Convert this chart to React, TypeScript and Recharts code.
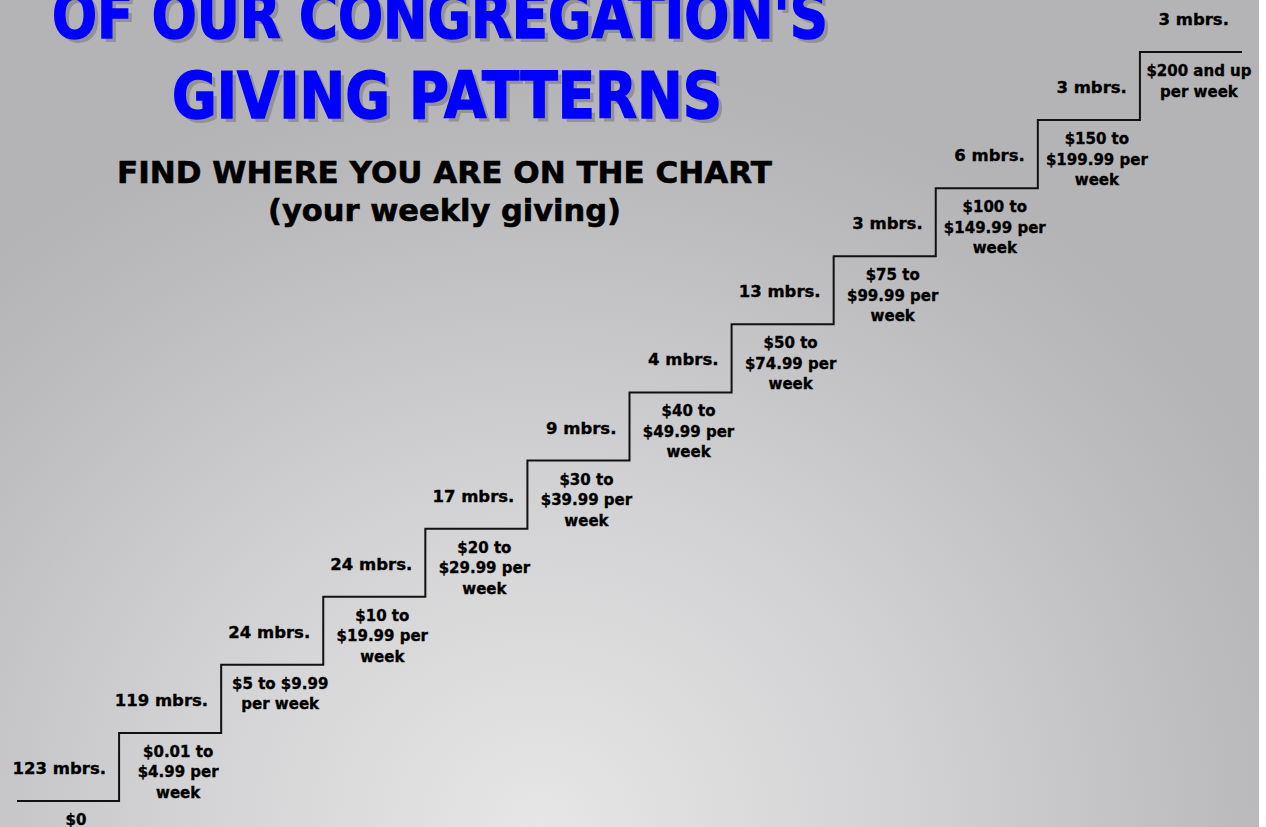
import { ComposedChart, Line, Scatter, XAxis, YAxis } from "recharts";

const memberCounts = [123, 119, 24, 24, 17, 9, 4, 13, 3, 6, 3, 3];
const givingRanges = [
  ["$0"],
  ["$0.01 to", "$4.99 per", "week"],
  ["$5 to $9.99", "per week"],
  ["$10 to", "$19.99 per", "week"],
  ["$20 to", "$29.99 per", "week"],
  ["$30 to", "$39.99 per", "week"],
  ["$40 to", "$49.99 per", "week"],
  ["$50 to", "$74.99 per", "week"],
  ["$75 to", "$99.99 per", "week"],
  ["$100 to", "$149.99 per", "week"],
  ["$150 to", "$199.99 per", "week"],
  ["$200 and up", "per week"],
];

// stair line: each step starts at x = index, height = index
const stairs = memberCounts.map((_, i) => ({ x: i, level: i }));
stairs.push({ x: memberCounts.length, level: memberCounts.length - 1 });

const stepLabels = memberCounts.map((count, i) => ({
  x: i + 0.5,
  level: i,
  count,
  range: givingRanges[i],
}));

const FONT = "'DejaVu Sans', Verdana, sans-serif";

function StepLabel(props: any) {
  const { cx, cy, payload } = props;
  return (
    <g fontFamily={FONT} fontWeight="bold" fontSize={15} fill="#000" stroke="#000" strokeWidth={0.35}>
      <text x={cx + 38} y={cy - 27} textAnchor="end" fontSize={16.5}>
        {payload.count} mbrs.
      </text>
      {payload.range.map((line: string, j: number) => (
        <text key={j} x={cx + 8} y={cy + 24 + j * 20.5} textAnchor="middle">
          {line}
        </text>
      ))}
    </g>
  );
}

export default function App() {
  return (
    <div
      style={{
        position: "absolute",
        left: 0,
        top: 0,
        width: 1266,
        height: 827,
        background: "#fff",
        overflow: "hidden",
      }}
    >
      <div
        style={{
          position: "absolute",
          left: 0,
          top: 0,
          width: 1259,
          height: 827,
          background: "radial-gradient(ellipse 820px 760px at 540px 827px, #e6e6e6 0%, #d2d2d4 45%, #bbbbbe 85%, #b4b4b7 100%)",
        }}
      />
      <svg width={1266} height={240} style={{ position: "absolute", left: 0, top: 0 }}>
        <g fontFamily={FONT} fontWeight="bold" fontSize={64}>
          <text x={56} y={42} textLength={776} lengthAdjust="spacingAndGlyphs" fill="#8a8a8e" opacity={0.8}>
            OF OUR CONGREGATION'S
          </text>
          <text x={52} y={38} textLength={776} lengthAdjust="spacingAndGlyphs" fill="#0000ff" stroke="#0000ff" strokeWidth={1.5}>
            OF OUR CONGREGATION'S
          </text>
          <text x={176} y={122} textLength={550} lengthAdjust="spacingAndGlyphs" fill="#8a8a8e" opacity={0.8}>
            GIVING PATTERNS
          </text>
          <text x={172} y={118} textLength={550} lengthAdjust="spacingAndGlyphs" fill="#0000ff" stroke="#0000ff" strokeWidth={1.5}>
            GIVING PATTERNS
          </text>
        </g>
        <g fontFamily={FONT} fontWeight="bold" fontSize={31} fill="#000" stroke="#000" strokeWidth={0.6}>
          <text x={117} y={183} textLength={655} lengthAdjust="spacingAndGlyphs">
            FIND WHERE YOU ARE ON THE CHART
          </text>
          <text x={268} y={221} textLength={353} lengthAdjust="spacingAndGlyphs">
            (your weekly giving)
          </text>
        </g>
      </svg>
      <div style={{ position: "absolute", left: 0, top: 0 }}>
        <ComposedChart
          width={1266}
          height={827}
          data={stairs}
          margin={{ top: 52, right: 24, bottom: 26, left: 17 }}
        >
          <XAxis dataKey="x" type="number" domain={[0, 12]} hide />
          <YAxis dataKey="level" type="number" domain={[0, 11]} hide />
          <Line
            type="stepAfter"
            dataKey="level"
            stroke="#111"
            strokeWidth={2}
            dot={false}
            isAnimationActive={false}
          />
          <Scatter data={stepLabels} dataKey="level" shape={StepLabel} isAnimationActive={false} />
        </ComposedChart>
      </div>
    </div>
  );
}
